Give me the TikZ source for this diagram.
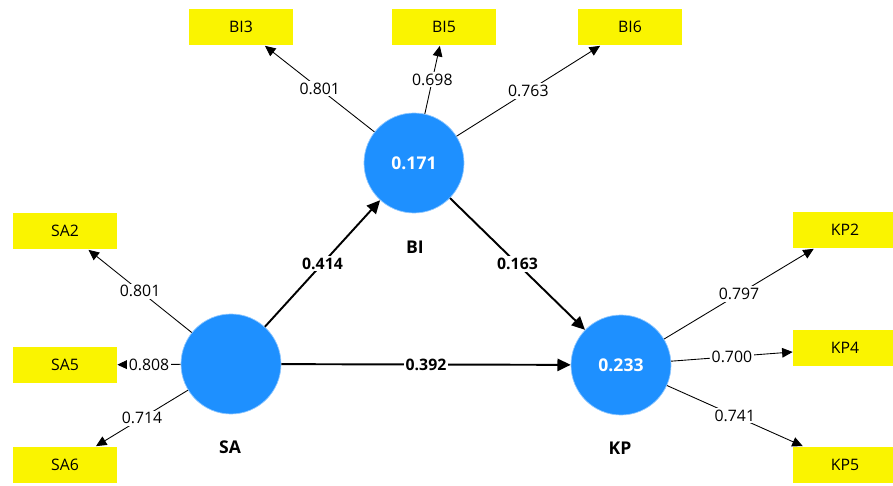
\documentclass[tikz,border=0pt]{standalone}
\usepackage{fontspec}
\setmainfont{Open Sans}
\usetikzlibrary{arrows.meta,positioning}
\definecolor{lvblue}{RGB}{30,144,255}
\definecolor{indyellow}{RGB}{250,244,0}

\begin{document}
\begin{tikzpicture}[
  x=0.02cm, y=-0.02cm,
  every node/.style={font=\fontsize{9}{11}\selectfont},
  lv/.style={
    circle,
    fill=lvblue,
    draw=lvblue!50,
    minimum size=2cm,
    text=white,
    font=\fontsize{10}{12}\selectfont\bfseries
  },
  ind/.style={
    rectangle,
    fill=indyellow,
    minimum width=2.08cm,
    minimum height=0.74cm
  },
  lvname/.style={font=\fontsize{10}{12}\selectfont\bfseries},
  loading/.style={-{Triangle[length=6pt,width=5.5pt]}, line width=0.5pt},
  pathcoef/.style={-{Triangle[length=7.5pt,width=7pt]}, line width=1.1pt},
  coef/.style={fill=white, inner sep=1pt}
]
\useasboundingbox (0,0) rectangle (893,486);

% latent variables
\node[lv] (BI) at (414,163) {0.171};
\node[lv] (SA) at (231,364) {};
\node[lv] (KP) at (621,365) {0.233};

\node[lvname] (BIname) at (415,247) {BI};
\node[lvname] (SAname) at (230,447) {SA};
\node[lvname] (KPname) at (620,448) {KP};

% indicators
\node[ind] (BI3) at (241,27) {BI3};
\node[ind] (BI5) at (444,27) {BI5};
\node[ind] (BI6) at (630,27) {BI6};

\node[ind] (SA2) at (65,231) {SA2};
\node[ind] (SA5) at (65,365) {SA5};
\node[ind] (SA6) at (65,465) {SA6};

\node[ind] (KP2) at (845,230) {KP2};
\node[ind] (KP4) at (845,348) {KP4};
\node[ind] (KP5) at (845,465) {KP5};

% outer loadings
\draw[loading] (BI) -- node[coef] {0.801} (BI3);
\draw[loading] (BI) -- node[coef] {0.698} (BI5);
\draw[loading] (BI) -- node[coef] {0.763} (BI6);

\draw[loading] (SA) -- node[coef] {0.801} (SA2);
\draw[loading] (SA) -- node[coef] {0.808} (SA5);
\draw[loading] (SA) -- node[coef] {0.714} (SA6);

\draw[loading] (KP) -- node[coef] {0.797} (KP2);
\draw[loading] (KP) -- node[coef] {0.700} (KP4);
\draw[loading] (KP) -- node[coef] {0.741} (KP5);

% path coefficients
\draw[pathcoef] (SA) -- node[coef, font=\fontsize{9}{11}\selectfont\bfseries] {0.414} (BI);
\draw[pathcoef] (BI) -- node[coef, font=\fontsize{9}{11}\selectfont\bfseries] {0.163} (KP);
\draw[pathcoef] (SA) -- node[coef, font=\fontsize{9}{11}\selectfont\bfseries] {0.392} (KP);

\end{tikzpicture}
\end{document}
